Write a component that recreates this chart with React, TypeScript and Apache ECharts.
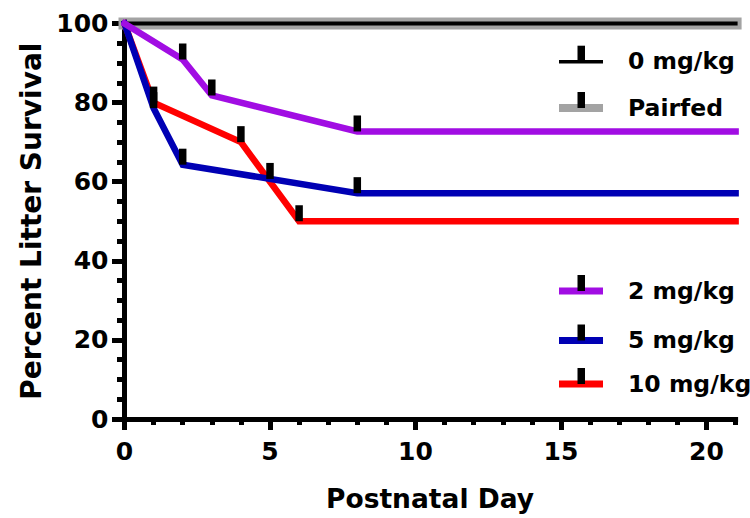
import React, { useEffect, useRef } from "react";
import * as echarts from "echarts";

// ---- data ----
const seriesNames = ["0 mg/kg", "Pairfed", "2 mg/kg", "5 mg/kg", "10 mg/kg"];
const seriesColors = ["#000000", "#a3a3a3", "#a10de3", "#0000b4", "#ff0000"];

const ctrlDays = [0, 21];
const ctrlSurvival = [100, 100];
const pairfedDays = [0, 21];
const pairfedSurvival = [100, 100];
const dose2Days = [0, 2, 3, 8, 21];
const dose2Survival = [100, 90.9, 81.8, 72.7, 72.7];
const dose5Days = [0, 1, 2, 8, 21];
const dose5Survival = [100, 78.6, 64.3, 57.1, 57.1];
const dose10Days = [0, 1, 4, 6, 21];
const dose10Survival = [100, 80, 70, 50, 50];

// censored observations (tick marks)
const dose2CensorDays = [2, 3, 8];
const dose2CensorSurv = [90.9, 81.8, 72.7];
const dose5CensorDays = [1, 2, 5, 8];
const dose5CensorSurv = [78.6, 64.3, 60.7, 57.1];
const dose10CensorDays = [1, 4, 6];
const dose10CensorSurv = [80, 70, 50];

const xMajorTicks = [0, 5, 10, 15, 20];
const xTitle = "Postnatal Day";
const yTitle = "Percent Litter Survival";

const FONT = "DejaVu Sans";

const zip = (xs: number[], ys: number[]) => xs.map((x, i) => [x, ys[i]]);

export default function App() {
  const ref = useRef<HTMLDivElement>(null);
  useEffect(() => {
    if (!ref.current) return;
    const chart = echarts.init(ref.current, undefined, { renderer: "svg" });

    const lineData = [
      zip(ctrlDays, ctrlSurvival),
      zip(pairfedDays, pairfedSurvival),
      zip(dose2Days, dose2Survival),
      zip(dose5Days, dose5Survival),
      zip(dose10Days, dose10Survival),
    ];
    const lineWidths = [4, 12, 6.5, 6.5, 6.5];
    const lineZ = [3, 2, 6, 5, 4];
    const censorData = [
      zip(dose2CensorDays, dose2CensorSurv),
      zip(dose5CensorDays, dose5CensorSurv),
      zip(dose10CensorDays, dose10CensorSurv),
    ];

    const lineSeries = seriesNames.map((name, i) => ({
      type: "line",
      name,
      data: lineData[i],
      showSymbol: false,
      symbol: "none",
      clip: false,
      z: lineZ[i],
      lineStyle: { color: seriesColors[i], width: lineWidths[i], cap: "square", join: "miter" },
      itemStyle: { color: seriesColors[i] },
    }));
    const censorSeries = censorData.map((d, i) => ({
      type: "scatter",
      name: seriesNames[i + 2] + " censored",
      data: d,
      symbol: "rect",
      symbolSize: [7.5, 16],
      symbolOffset: [0, -8],
      z: 10,
      itemStyle: { color: "#000000", opacity: 1 },
      emphasis: { disabled: true },
    }));

    // legend drawn as graphic
    const legendY = [61.7, 108, 291, 340.5, 384];
    const legendLineW = [3.5, 8, 7, 7, 7];
    const legendGraphics: any[] = [];
    seriesNames.forEach((name, i) => {
      const y = legendY[i];
      legendGraphics.push({
        type: "line",
        shape: { x1: 559, y1: y, x2: 603, y2: y },
        style: { stroke: seriesColors[i], lineWidth: legendLineW[i] },
        z: 20,
      });
      legendGraphics.push({
        type: "rect",
        shape: { x: 577.5, y: y - 16, width: 7.5, height: 16 },
        style: { fill: "#000000" },
        z: 21,
      });
      legendGraphics.push({
        type: "text",
        x: 628,
        y: y - 0.5,
        style: {
          text: name,
          font: `bold 23.5px "${FONT}"`,
          fill: "#000000",
          verticalAlign: "middle",
          align: "left",
        },
        z: 21,
      });
    });

    const axisLine = { show: true, lineStyle: { color: "#000", width: 5, cap: "square" } };
    const labelStyle = { fontFamily: FONT, fontWeight: "bold", fontSize: 25, color: "#000" };

    chart.setOption({
      animation: false,
      grid: { left: 124.5, top: 23.5, right: 14.4, bottom: 99, containLabel: false },
      xAxis: [
        {
          type: "value",
          position: "bottom",
          min: 0,
          max: 21,
          interval: 1,
          axisLine,
          axisTick: { show: true, length: 6, lineStyle: { color: "#000", width: 5 } },
          axisLabel: { show: false },
          splitLine: { show: false },
        },
        {
          type: "value",
          position: "bottom",
          min: 0,
          max: 21,
          interval: 5,
          axisLine: { show: false },
          axisTick: { show: true, length: 11, customValues: xMajorTicks, lineStyle: { color: "#000", width: 5 } },
          axisLabel: { show: true, customValues: xMajorTicks, margin: 20, ...labelStyle },
          splitLine: { show: false },
          name: xTitle,
          nameLocation: "middle",
          nameGap: 66,
          nameTextStyle: { ...labelStyle, fontSize: 26.5 },
        },
      ],
      yAxis: {
        type: "value",
        min: 0,
        max: 100,
        interval: 20,
        axisLine,
        axisTick: { show: true, length: 12.5, lineStyle: { color: "#000", width: 5 } },
        minorTick: { show: true, splitNumber: 4, length: 7.5, lineStyle: { color: "#000", width: 5 } },
        axisLabel: { margin: 16, ...labelStyle },
        splitLine: { show: false },
        minorSplitLine: { show: false },
        name: yTitle,
        nameLocation: "middle",
        nameGap: 78,
        nameTextStyle: { ...labelStyle, fontSize: 28 },
      },
      series: [...lineSeries, ...censorSeries],
      graphic: legendGraphics,
    });

    return () => chart.dispose();
  }, []);

  return (
    <div
      ref={ref}
      style={{ position: "fixed", left: 0, top: 0, width: 750, height: 518, background: "#fff" }}
    />
  );
}
